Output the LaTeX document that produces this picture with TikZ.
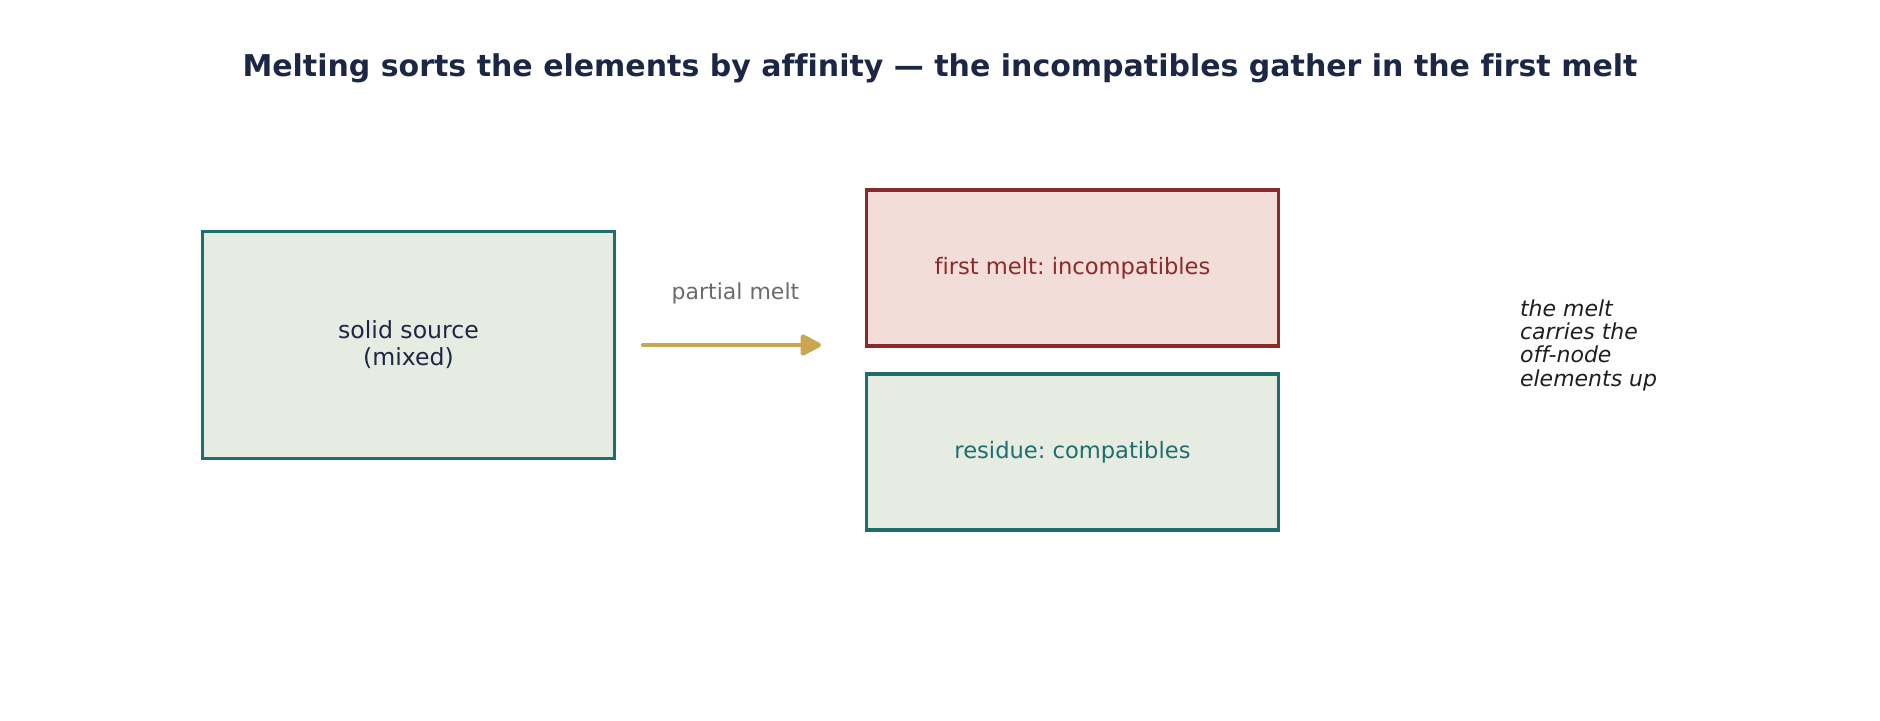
\documentclass[tikz,border=0pt]{standalone}
\usepackage{fontspec}
\setmainfont{DejaVu Sans}[Ligatures=NoCommon]
\usetikzlibrary{arrows.meta,positioning}
\definecolor{navy}{HTML}{1B2744}
\definecolor{teal}{HTML}{1F6E6E}
\definecolor{sage}{HTML}{E6ECE2}
\definecolor{rust}{HTML}{8B2A2A}
\definecolor{blush}{HTML}{F2DDD8}
\definecolor{gold}{HTML}{C9A64F}
\definecolor{ash}{HTML}{6B6B6B}
\frenchspacing
\tikzset{
  box/.style = {draw, line width=1.7pt, minimum width=205.8pt, inner sep=0pt, align=center, font=\fontsize{11.3}{13.5}\selectfont},
  solidbox/.style = {box, draw=teal, fill=sage, minimum height=113.5pt, text=navy, font=\fontsize{11.8}{13.5}\selectfont},
  meltbox/.style = {box, draw=rust, fill=blush, minimum height=78pt, text=rust},
  restbox/.style = {box, draw=teal, fill=sage, minimum height=78pt, text=teal}
}
\begin{document}
\begin{tikzpicture}[x=0.5pt, y=-0.5pt]
\useasboundingbox (0,0) rectangle (1880,720);
\node[font=\fontsize{15}{18}\selectfont\bfseries, text=navy] (title) at (940,68) {Melting sorts the elements by affinity — the incompatibles gather in the first melt};
\node[solidbox] (source) at (408.5,345) {solid source\\(mixed)};
\node[meltbox] (melt) at (1072.5,268) {first melt: incompatibles};
\node[restbox] (residue) at (1072.5,452) {residue: compatibles};
\draw[gold, line width=2.2pt, line cap=round, -{Triangle[length=11.5pt, width=11.5pt, round]}, shorten <=13.5pt, shorten >=22pt] (source.east) -- (source.east -| melt.west) node[midway, above=16pt, xshift=-2.5pt, text=ash, font=\fontsize{11}{13}\selectfont] (label) {partial melt};
\node[anchor=west, align=left, text=black!88, font=\fontsize{11}{11.65}\selectfont\itshape] (note) at (1513,345) {the melt\\carries the\\off-node\\elements up};
\end{tikzpicture}
\end{document}
